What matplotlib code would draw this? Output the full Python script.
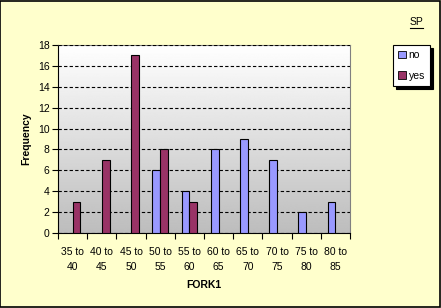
import numpy as np
import matplotlib
matplotlib.use("Agg")
import matplotlib.pyplot as plt
from matplotlib.patches import Rectangle
from matplotlib.lines import Line2D

# chart data
categories = ["35 to\n40", "40 to\n45", "45 to\n50", "50 to\n55", "55 to\n60",
              "60 to\n65", "65 to\n70", "70 to\n75", "75 to\n80", "80 to\n85"]
no_counts = [0, 0, 0, 6, 4, 8, 9, 7, 2, 3]
yes_counts = [3, 7, 17, 8, 3, 0, 0, 0, 0, 0]
series_names = ["no", "yes"]

plt.rcParams['font.family'] = ['Liberation Sans', 'DejaVu Sans']

fig = plt.figure(figsize=(4.41, 3.08), dpi=100)
fig.patch.set_facecolor('#FFFFCC')
fig.patches.append(Rectangle((0.001, 0.002), 0.996, 0.995, transform=fig.transFigure,
                             fill=False, edgecolor='black', linewidth=1.2))

ax = fig.add_axes([58 / 441, 75 / 308, 292 / 441, 188 / 308])

# gradient background, grey at top to white at bottom
grad = np.linspace(0.74, 1.0, 256).reshape(-1, 1)
ax.imshow(grad, cmap='gray', vmin=0, vmax=1, aspect='auto',
          extent=[-0.5, len(categories) - 0.5, 18, 0], zorder=0)

x = np.arange(len(categories))
w = 0.27
no_x = [i for i, v in zip(x, no_counts) if v > 0]
no_v = [v for v in no_counts if v > 0]
yes_x = [i for i, v in zip(x, yes_counts) if v > 0]
yes_v = [v for v in yes_counts if v > 0]

ax.bar(np.array(no_x) - w / 2, no_v, width=w, color='#9999FF', edgecolor='black',
       linewidth=0.8, zorder=3)
ax.bar(np.array(yes_x) + w / 2, yes_v, width=w, color='#993366', edgecolor='black',
       linewidth=0.8, zorder=3)

ax.set_xlim(-0.5, len(categories) - 0.5)
ax.set_ylim(0, 18)
ax.set_yticks(range(0, 19, 2))
ax.yaxis.grid(True, color='black', linestyle=(0, (3, 2)), linewidth=0.8)
ax.set_axisbelow(False)
for line in ax.get_ygridlines():
    line.set_zorder(1)

ax.set_xticks(x)
ax.set_xticklabels(categories, fontsize=7.5, linespacing=1.6)
ax.set_xticks(np.arange(-0.5, len(categories)), minor=True)
ax.tick_params(axis='x', which='major', length=0, pad=10)
ax.tick_params(axis='x', which='minor', length=4, direction='out', width=0.8)
ax.tick_params(axis='y', labelsize=7.5, length=4, direction='out', width=0.8, pad=2)

for s in ['top', 'right']:
    ax.spines[s].set_color('#808080')
    ax.spines[s].set_linewidth(0.8)
for s in ['left', 'bottom']:
    ax.spines[s].set_linewidth(0.8)

ax.set_xlabel("FORK1", fontsize=7.5, fontweight='bold', labelpad=6)
ax.set_ylabel("Frequency", fontsize=7.5, fontweight='bold', labelpad=5)

handles = [Rectangle((0, 0), 1, 1, facecolor='#9999FF', edgecolor='black', linewidth=0.6),
           Rectangle((0, 0), 1, 1, facecolor='#993366', edgecolor='black', linewidth=0.6)]
leg = fig.legend(handles, series_names, loc='upper left',
                 bbox_to_anchor=(393 / 441, 1 - 45 / 308), fontsize=7.5,
                 frameon=True, fancybox=False, shadow={'color': 'black', 'alpha': 1},
                 edgecolor='black', handlelength=0.7, handleheight=0.7,
                 handletextpad=0.3, borderpad=0.5, labelspacing=1.0,
                 borderaxespad=0)
leg.get_frame().set_linewidth(0.8)
leg.get_frame().set_facecolor('white')

fig.text(416 / 441, 1 - 22 / 308, "SP", fontsize=7.5, ha='center', va='center')
fig.add_artist(Line2D([410 / 441, 423 / 441], [1 - 28 / 308, 1 - 28 / 308],
                      transform=fig.transFigure, color='black', linewidth=0.8))

fig.savefig("out.png", dpi=100, facecolor=fig.get_facecolor())
